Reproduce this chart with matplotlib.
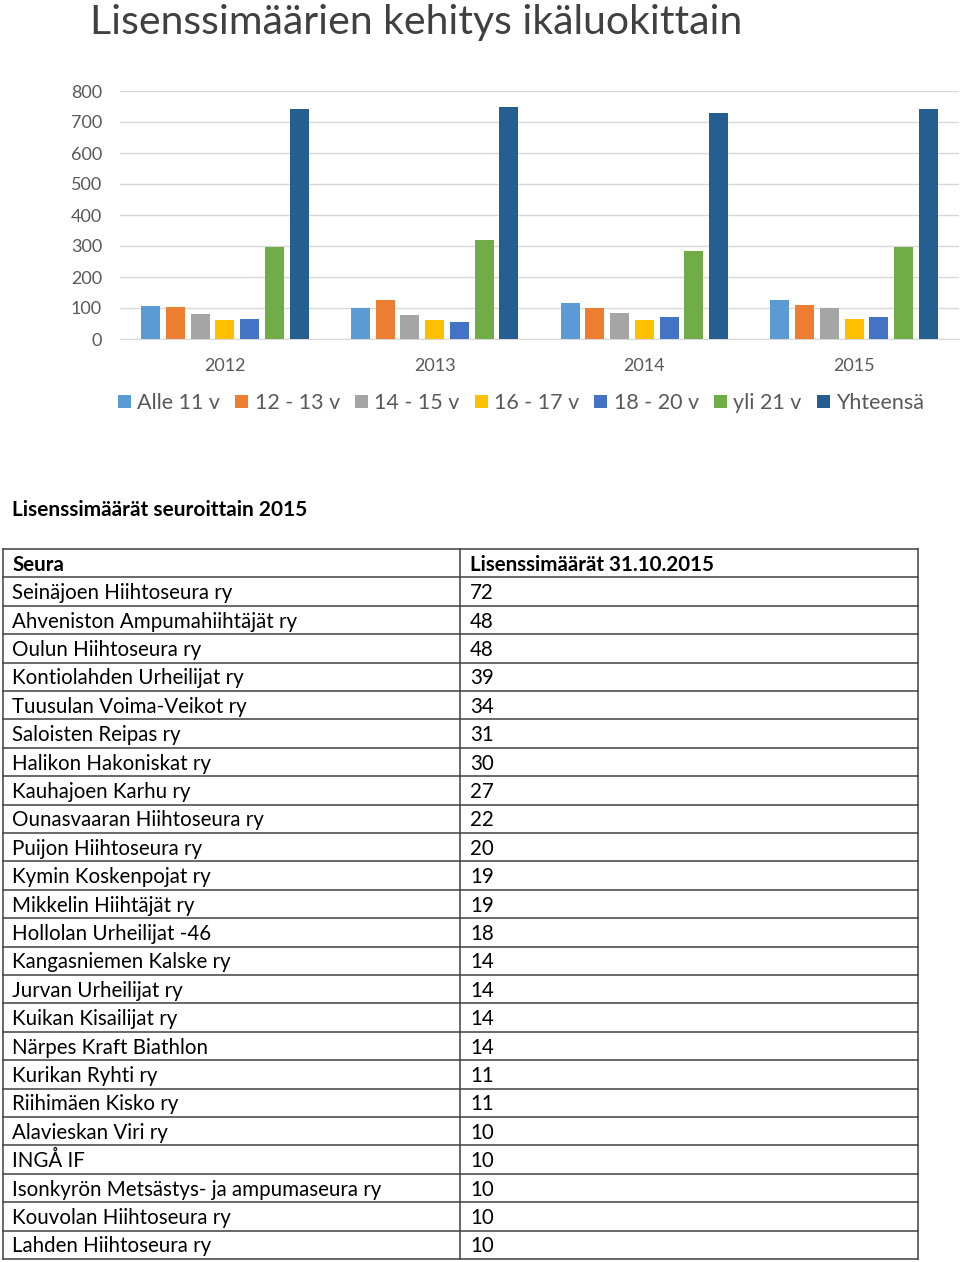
import numpy as np
import matplotlib.pyplot as plt

plt.rcParams['font.family'] = ['Lato', 'DejaVu Sans']

# Lisenssimäärät ikäluokittain
vuodet = ["2012", "2013", "2014", "2015"]
sarjat = ["Alle 11 v", "12 - 13 v", "14 - 15 v", "16 - 17 v", "18 - 20 v", "yli 21 v", "Yhteensä"]
alle11 = [108, 100, 116, 125]
v12_13 = [104, 125, 101, 110]
v14_15 = [82, 79, 84, 101]
v16_17 = [62, 62, 62, 64]
v18_20 = [64, 55, 70, 70]
yli21 = [296, 319, 285, 296]
yhteensa = [743, 750, 729, 743]
arvot = [alle11, v12_13, v14_15, v16_17, v18_20, yli21, yhteensa]
varit = ["#5B9BD5", "#ED7D31", "#A5A5A5", "#FFC000", "#4472C4", "#70AD47", "#255E91"]

# Lisenssimäärät seuroittain 2015
seurat = ["Seinäjoen Hiihtoseura ry", "Ahveniston Ampumahiihtäjät ry", "Oulun Hiihtoseura ry",
          "Kontiolahden Urheilijat ry", "Tuusulan Voima-Veikot ry", "Saloisten Reipas ry",
          "Halikon Hakoniskat ry", "Kauhajoen Karhu ry", "Ounasvaaran Hiihtoseura ry",
          "Puijon Hiihtoseura ry", "Kymin Koskenpojat ry", "Mikkelin Hiihtäjät ry",
          "Hollolan Urheilijat -46", "Kangasniemen Kalske ry", "Jurvan Urheilijat ry",
          "Kuikan Kisailijat ry", "Närpes Kraft Biathlon", "Kurikan Ryhti ry",
          "Riihimäen Kisko ry", "Alavieskan Viri ry", "INGÅ IF",
          "Isonkyrön Metsästys- ja ampumaseura ry", "Kouvolan Hiihtoseura ry", "Lahden Hiihtoseura ry"]
lisenssit = [72, 48, 48, 39, 34, 31, 30, 27, 22, 20, 19, 19, 18, 14, 14, 14, 14, 11, 11, 10, 10, 10, 10, 10]

fig = plt.figure(figsize=(9.6, 12.62), dpi=100)
W, H = 960, 1262

# --- pylväskaavio ---
ax = fig.add_axes([120 / W, 1 - 339 / H, 839 / W, 248 / H])
x = np.arange(len(vuodet))
vali = 0.118
for i, (nimi, a, c) in enumerate(zip(sarjat, arvot, varit)):
    ax.bar(x + (i - 3) * vali, a, width=0.09, color=c, label=nimi, zorder=3)
ax.set_xlim(-0.5, 3.5)
ax.set_ylim(0, 800)
ax.set_yticks(range(0, 801, 100))
ax.set_xticks(x)
ax.set_xticklabels(vuodet)
ax.grid(axis="y", color="#d9d9d9", lw=1, zorder=0)
for s in ["top", "right", "left"]:
    ax.spines[s].set_visible(False)
ax.spines["bottom"].set_color("#d9d9d9")
ax.tick_params(length=0, labelsize=13, colors="#595959")
ax.tick_params(axis="y", pad=13)
ax.tick_params(axis="x", pad=14)

fig.text(90 / W, 1 - 34 / H, "Lisenssimäärien kehitys ikäluokittain", fontsize=29.5,
         color="#404040", va="baseline", ha="left")

fig.legend(loc="center", bbox_to_anchor=(521 / W, 1 - 403 / H), ncol=7, frameon=False,
           handlelength=0.6, handleheight=0.6, handletextpad=0.3, columnspacing=0.7,
           fontsize=15.5, labelcolor="#595959")

# --- taulukko ---
tx = fig.add_axes([0, 0, 1, 1])
tx.set_xlim(0, W)
tx.set_ylim(H, 0)
tx.axis("off")
tx.patch.set_alpha(0)

tx.text(12, 510, "Lisenssimäärät seuroittain 2015", fontsize=15, fontweight="bold",
        va="center", ha="left", color="black")

y0, rh = 549, 28.4
rivit = [("Seura", "Lisenssimäärät 31.10.2015")] + [(s, str(v)) for s, v in zip(seurat, lisenssit)]
for k in range(len(rivit) + 1):
    tx.plot([3, 918], [y0 + k * rh] * 2, color="#404040", lw=1.1)
for xv in [3, 460, 918]:
    tx.plot([xv, xv], [y0, y0 + len(rivit) * rh], color="#404040", lw=1.1)
for i, (s, v) in enumerate(rivit):
    fw = "bold" if i == 0 else "normal"
    yc = y0 + (i + 0.5) * rh + 1.5
    tx.text(12, yc, s, fontsize=14.8, fontweight=fw, va="center", ha="left")
    tx.text(470, yc, v, fontsize=14.8, fontweight=fw, va="center", ha="left")

fig.savefig("out.png", dpi=100)
